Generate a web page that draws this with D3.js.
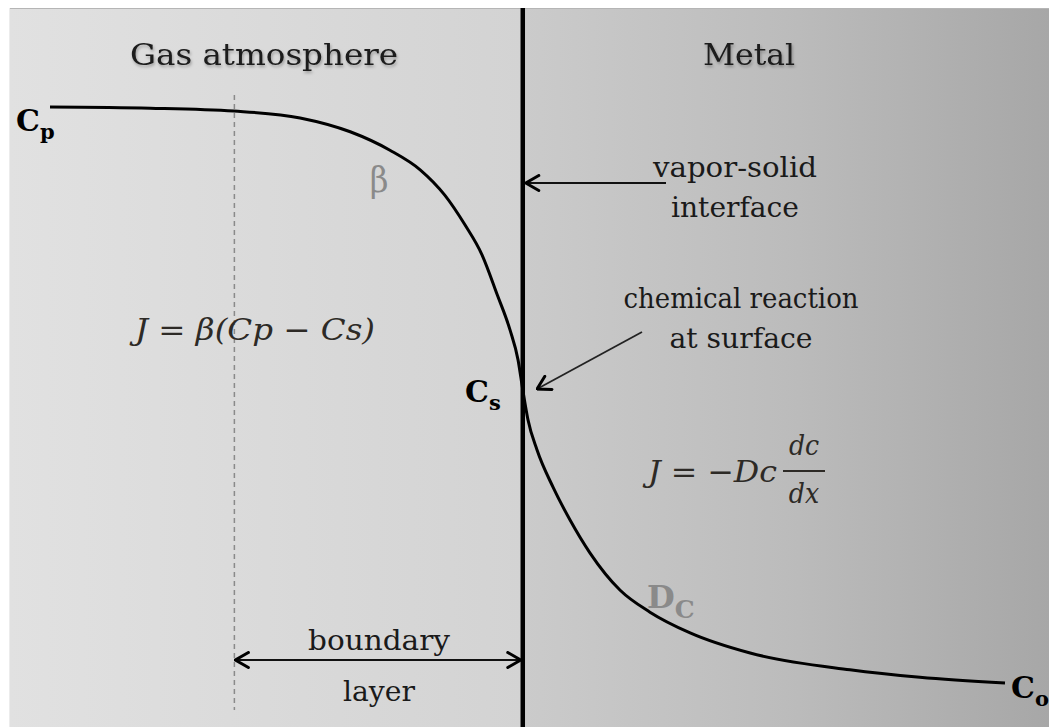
<!DOCTYPE html>
<html>
  <head>
    <meta charset="utf-8" />
    <title>Gas / metal concentration profile</title>
    <script src="https://cdn.jsdelivr.net/npm/d3@7"></script>
    <style>
      body { margin: 0; background: #fff; }
      text { font-family: "DejaVu Serif Condensed", "DejaVu Serif", serif; }
      text.conc { font-family: "DejaVu Serif", serif; }
    </style>
  </head>
  <body>
    <script>
// concentration profile across the vapor-solid interface
// position: distance from the interface (interface = 0, gas side negative)
// concentration: relative, Cp = 100 far in the gas, Co = 0 deep in the metal
var positions =     [-100, -78.8, -61.1, -47.1, -36.5, -28.1, -21.7, -16.5, -12.2, -8.6, -5.4, -2.7, -1.0, 0, 1.1, 3.0, 6.4, 10.0, 14.2, 20.6, 26.9, 35.4, 48.1, 69.2, 84.0, 102];
var concentration = [100, 99.8, 99.3, 98.1, 95.7, 92.5, 89.1, 84.7, 79.5, 74.3, 67.4, 61.3, 56.1, 50.9, 45.7, 40.5, 34.0, 28.3, 22.6, 16.1, 12.3, 8.7, 5.2, 2.3, 1.0, 0];

var interfacePos = 0,
    boundaryPos = -61;

var regionLabels = ["Gas atmosphere", "Metal"];
var interfaceLabel = ["vapor-solid", "interface"];
var reactionLabel = ["chemical reaction", "at surface"];
var layerLabel = ["boundary", "layer"];

var w = 1049,
    h = 727,
    frameTop = 8,
    frameLeft = 9;

var svg = d3.select("body").append("svg")
  .attr("width", w)
  .attr("height", h);

var x = d3.scaleLinear().domain([-100, 102]).range([50, 1005]),
    y = d3.scaleLinear().domain([0, 100]).range([683, 107]);

var defs = svg.append("defs");

var gGas = defs.append("linearGradient").attr("id", "gas");
gGas.append("stop").attr("offset", "0%").attr("stop-color", "#e1e1e1");
gGas.append("stop").attr("offset", "100%").attr("stop-color", "#d3d3d3");

var gMetal = defs.append("linearGradient").attr("id", "metal");
gMetal.append("stop").attr("offset", "0%").attr("stop-color", "#cbcbcb");
gMetal.append("stop").attr("offset", "50%").attr("stop-color", "#bcbcbc");
gMetal.append("stop").attr("offset", "100%").attr("stop-color", "#a7a7a7");

defs.append("filter").attr("id", "shadow")
  .attr("x", "-10%").attr("y", "-20%").attr("width", "130%").attr("height", "160%")
  .append("feDropShadow")
  .attr("dx", 1).attr("dy", 2).attr("stdDeviation", 1.4)
  .attr("flood-color", "#000").attr("flood-opacity", 0.3);

defs.append("marker")
  .attr("id", "head")
  .attr("viewBox", "0 0 16 18")
  .attr("refX", 15).attr("refY", 9)
  .attr("markerUnits", "userSpaceOnUse")
  .attr("markerWidth", 16).attr("markerHeight", 18)
  .attr("orient", "auto-start-reverse")
  .append("path")
  .attr("d", "M2,1.5 L15,9 L2,16.5")
  .attr("fill", "none")
  .attr("stroke", "#000")
  .attr("stroke-width", 3)
  .attr("stroke-linecap", "round");

// background panels
svg.append("rect")
  .attr("x", frameLeft).attr("y", frameTop)
  .attr("width", x(interfacePos) - frameLeft).attr("height", h - frameTop)
  .attr("fill", "url(#gas)");
svg.append("rect")
  .attr("x", x(interfacePos)).attr("y", frameTop)
  .attr("width", w - x(interfacePos)).attr("height", h - frameTop)
  .attr("fill", "url(#metal)");
svg.append("line")
  .attr("x1", frameLeft).attr("x2", w).attr("y1", frameTop + 0.5).attr("y2", frameTop + 0.5)
  .attr("stroke", "#b5b5b5").attr("stroke-width", 1);
svg.append("line")
  .attr("x1", frameLeft + 0.5).attr("x2", frameLeft + 0.5).attr("y1", frameTop).attr("y2", h)
  .attr("stroke", "#ececec").attr("stroke-width", 1);

// boundary layer edge
svg.append("line")
  .attr("x1", x(boundaryPos)).attr("x2", x(boundaryPos))
  .attr("y1", 95).attr("y2", 710)
  .attr("stroke", "#8a8a8a")
  .attr("stroke-width", 1.5)
  .attr("stroke-dasharray", "5,4");

// interface
svg.append("line")
  .attr("x1", x(interfacePos)).attr("x2", x(interfacePos))
  .attr("y1", frameTop).attr("y2", h)
  .attr("stroke", "#000")
  .attr("stroke-width", 4.5);

// concentration curve
var profile = positions.map(function(p, i) { return [p, concentration[i]]; });
var line = d3.line()
  .x(function(d) { return x(d[0]); })
  .y(function(d) { return y(d[1]); })
  .curve(d3.curveMonotoneX);

svg.append("path")
  .datum(profile)
  .attr("d", line)
  .attr("fill", "none")
  .attr("stroke", "#000")
  .attr("stroke-width", 3);

// region titles
svg.selectAll("text.region")
  .data(regionLabels)
  .enter()
    .append("text")
    .attr("class", "region")
    .attr("x", function(d, i) { return i == 0 ? 264 : 749; })
    .attr("y", 65)
    .attr("text-anchor", "middle")
    .attr("font-size", 30)
    .attr("fill", "#1a1a1a")
    .attr("filter", "url(#shadow)")
    .attr("textLength", function(d, i) { return i == 0 ? 268 : 92; })
    .attr("lengthAdjust", "spacingAndGlyphs")
    .text(function(d) { return d; });

// annotations
function twoLines(lines, cx, y0, dy, lens) {
  svg.selectAll(null)
    .data(lines)
    .enter()
      .append("text")
      .attr("x", cx)
      .attr("y", function(d, i) { return y0 + i * dy; })
      .attr("text-anchor", "middle")
      .attr("font-size", 28)
      .attr("fill", "#1a1a1a")
      .attr("textLength", function(d, i) { return lens[i]; })
      .attr("lengthAdjust", "spacingAndGlyphs")
      .text(function(d) { return d; });
}
twoLines(interfaceLabel, 735, 177, 40, [164, 128]);
twoLines(reactionLabel, 741, 308, 40, [235, 143]);
twoLines(layerLabel, 379, 650, 51, [142, 72]);

// arrows
svg.append("line")
  .attr("x1", 666).attr("y1", 183)
  .attr("x2", x(interfacePos) + 3).attr("y2", 183)
  .attr("stroke", "#111").attr("stroke-width", 1.8)
  .attr("marker-end", "url(#head)");

svg.append("line")
  .attr("x1", 642).attr("y1", 332)
  .attr("x2", 537).attr("y2", 389)
  .attr("stroke", "#222").attr("stroke-width", 1.8)
  .attr("marker-end", "url(#head)");

svg.append("line")
  .attr("x1", x(boundaryPos) + 1).attr("y1", 660)
  .attr("x2", x(interfacePos) - 2).attr("y2", 660)
  .attr("stroke", "#111").attr("stroke-width", 1.8)
  .attr("marker-start", "url(#head)")
  .attr("marker-end", "url(#head)");

// concentration labels
function conc(sub, xx, yy) {
  var t = svg.append("text")
    .attr("class", "conc")
    .attr("x", xx).attr("y", yy)
    .attr("font-size", 30)
    .attr("font-weight", "bold")
    .attr("fill", "#000");
  t.append("tspan").text("C");
  t.append("tspan").attr("font-size", 21).attr("dy", 8).text(sub);
}
conc("p", 16, 131);
conc("s", 465, 402);
conc("o", 1011, 698);

// coefficient labels
svg.append("text")
  .attr("x", 379).attr("y", 192)
  .attr("text-anchor", "middle")
  .attr("font-size", 36)
  .attr("fill", "#8a8a8a")
  .text("β");

var dc = svg.append("text")
  .attr("class", "conc")
  .attr("x", 647).attr("y", 608)
  .attr("font-size", 32)
  .attr("font-weight", "bold")
  .attr("fill", "#8a8a8a");
dc.append("tspan").text("D");
dc.append("tspan").attr("font-size", 25).attr("dy", 10).text("C");

// flux equations
svg.append("text")
  .attr("x", 135).attr("y", 340)
  .attr("font-size", 30)
  .attr("font-style", "italic")
  .attr("fill", "#2d2a26")
  .attr("textLength", 240)
  .attr("lengthAdjust", "spacingAndGlyphs")
  .text("J = β(Cp − Cs)");

svg.append("text")
  .attr("x", 648).attr("y", 482)
  .attr("font-size", 30)
  .attr("font-style", "italic")
  .attr("fill", "#2d2a26")
  .attr("textLength", 129)
  .attr("lengthAdjust", "spacingAndGlyphs")
  .text("J = −Dc");

svg.selectAll(null)
  .data(["dc", "dx"])
  .enter()
    .append("text")
    .attr("x", 804)
    .attr("y", function(d, i) { return i == 0 ? 455 : 503; })
    .attr("text-anchor", "middle")
    .attr("font-size", 28)
    .attr("font-style", "italic")
    .attr("fill", "#2d2a26")
    .text(function(d) { return d; });

svg.append("line")
  .attr("x1", 783).attr("x2", 825)
  .attr("y1", 471).attr("y2", 471)
  .attr("stroke", "#2d2a26").attr("stroke-width", 2);
    </script>
  </body>
</html>
